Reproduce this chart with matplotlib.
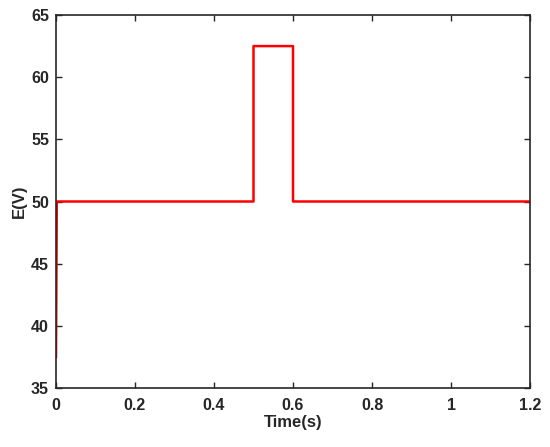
import numpy as np
import matplotlib.pyplot as plt

plt.rcParams['font.family'] = ['Liberation Sans', 'DejaVu Sans']
plt.rcParams['font.weight'] = 'bold'

# step profile of E over time
t = [0.0, 0.002, 0.5, 0.5, 0.6, 0.6, 1.2]
E = [37.5, 50.0, 50.0, 62.5, 62.5, 50.0, 50.0]

fig = plt.figure(figsize=(5.5, 4.47), dpi=100)
ax = fig.add_axes([56 / 550, 1 - 388 / 447, (530 - 56) / 550, (388 - 15) / 447])

ax.plot(t, E, color='red', linewidth=1.8)

ax.set_xlim(0, 1.2)
ax.set_ylim(35, 65)
ax.set_xticks([0, 0.2, 0.4, 0.6, 0.8, 1, 1.2])
ax.set_xticklabels(['0', '0.2', '0.4', '0.6', '0.8', '1', '1.2'])
ax.set_yticks([35, 40, 45, 50, 55, 60, 65])

ax.tick_params(direction='in', top=True, right=True, length=4, width=1,
               labelsize=11.5, colors='#262626')
ax.tick_params(axis='x', pad=7)
ax.tick_params(axis='y', pad=5)
for s in ax.spines.values():
    s.set_linewidth(1.2)
    s.set_color('#262626')

ax.set_xlabel('Time(s)', fontsize=12, fontweight='bold', color='#262626', labelpad=2)
ax.set_ylabel('E(V)', fontsize=12, fontweight='bold', color='#262626', labelpad=3)

fig.savefig('out.png', dpi=100)
